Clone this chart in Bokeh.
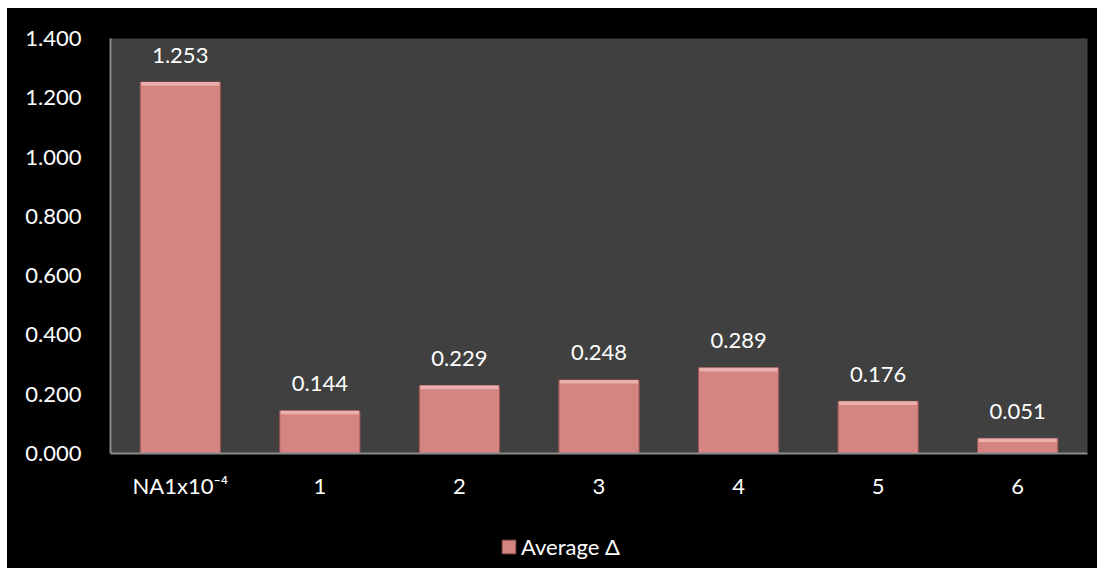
from bokeh.plotting import figure
from bokeh.layouts import column
from bokeh.models import ColumnDataSource, LabelSet, Legend, LegendItem, SingleIntervalTicker, NumeralTickFormatter, FactorRange, Range1d
from bokeh.core.properties import value
from bokeh.embed import file_html
from bokeh.resources import INLINE

categories = ["NA1x10⁻⁴", "1", "2", "3", "4", "5", "6"]
values = [1.253, 0.144, 0.229, 0.248, 0.289, 0.176, 0.051]
labels = ["1.253", "0.144", "0.229", "0.248", "0.289", "0.176", "0.051"]
series_name = "Average Δ"

FONT = "Lato"
FS = "22px"
BAR = "#d48582"
src = ColumnDataSource(dict(cat=categories, val=values, lab=labels,
                            hl=[v - 0.012 if v > 0.03 else v * 0.6 for v in values]))

p = figure(x_range=FactorRange(*categories, range_padding=0), y_range=Range1d(0, 1.40001),
           width=1090, height=517, output_backend="svg", toolbar_location=None,
           min_border_left=103, min_border_right=10, min_border_top=30, min_border_bottom=72,
           background_fill_color="#404040", border_fill_color="black",
           outline_line_color=None, styles={"background-color": "black"})

bars = p.vbar(x="cat", top="val", width=0.575, source=src, fill_color=BAR,
              line_color="#9a5553", line_width=1)
p.vbar(x="cat", top="val", bottom="hl", width=0.56, source=src, fill_color="#eab0ad",
       line_color=None)

p.add_layout(LabelSet(x="cat", y="val", text="lab", source=src, y_offset=27,
                      text_align="center", text_baseline="middle", text_color="white",
                      text_font=value(FONT), text_font_size=FS))

p.xgrid.visible = False
p.ygrid.visible = False

p.yaxis.ticker = SingleIntervalTicker(interval=0.2)
p.yaxis.formatter = NumeralTickFormatter(format="0.000")
for ax in (p.xaxis, p.yaxis):
    ax.major_label_text_color = "white"
    ax.major_label_text_font = FONT
    ax.major_label_text_font_size = FS
    ax.axis_line_color = "#8a8a8a"
    ax.axis_line_width = 2
    ax.major_tick_line_color = None
    ax.minor_tick_line_color = None
p.yaxis.major_label_standoff = 23
p.xaxis.major_label_standoff = 12

# legend strip
leg = figure(width=1090, height=43, output_backend="svg", toolbar_location=None,
             x_range=Range1d(0, 1), y_range=Range1d(0, 1),
             min_border=0, background_fill_color="black", border_fill_color="black",
             outline_line_color=None, styles={"background-color": "black"})
leg.xaxis.visible = False
leg.yaxis.visible = False
leg.grid.visible = False
dummy = leg.vbar(x=[-5], top=[-5], width=0.5, fill_color=BAR, line_color="#9a5553")
legend = Legend(items=[LegendItem(label=series_name, renderers=[dummy])],
                location=(390, 8), orientation="horizontal",
                background_fill_alpha=0, border_line_color=None,
                label_text_color="white", label_text_font=FONT, label_text_font_size=FS,
                glyph_width=17, glyph_height=17, label_standoff=4, padding=6, margin=0)
leg.add_layout(legend, "center")

layout = column(p, leg, spacing=0, margin=(8, 7, 8, 7),
                styles={"background-color": "black"})
open("out.html", "w").write(file_html(layout, INLINE))
